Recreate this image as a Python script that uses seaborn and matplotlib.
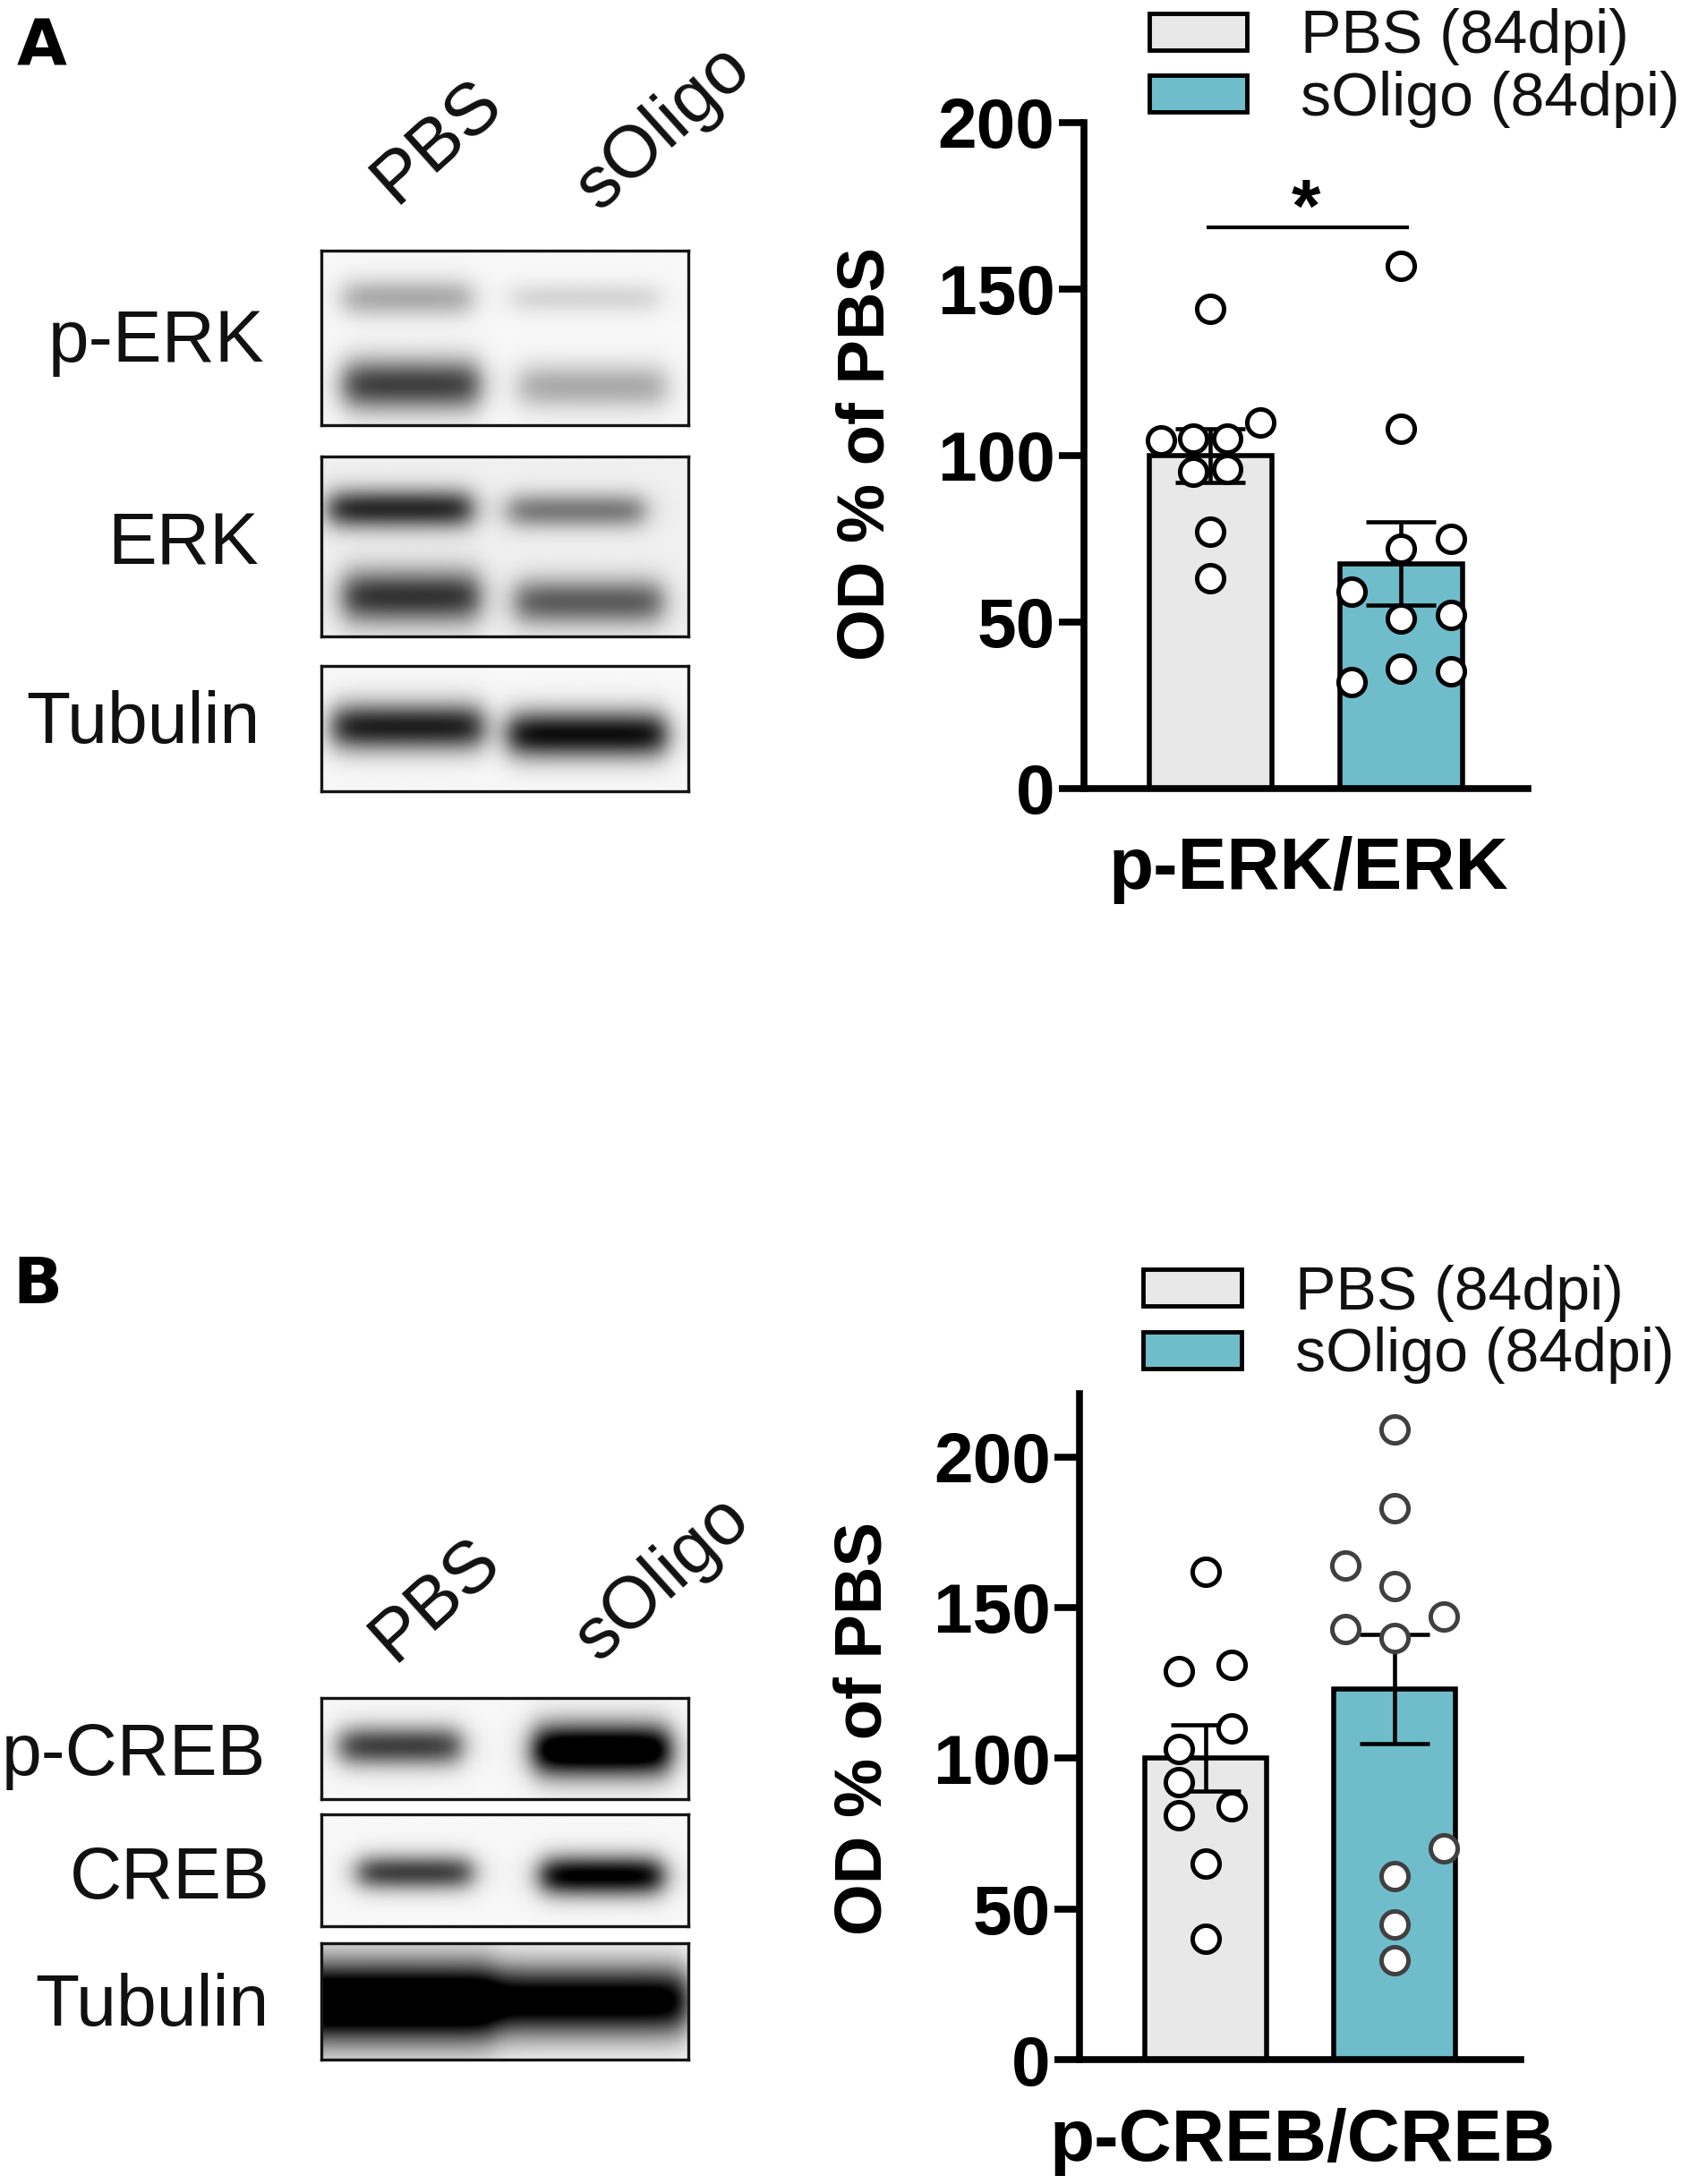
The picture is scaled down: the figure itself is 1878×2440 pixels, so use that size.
import numpy as np
import pandas as pd
import matplotlib
matplotlib.use("Agg")
import matplotlib.pyplot as plt
from matplotlib.patches import Patch
import seaborn as sns

# ---------- data ----------
groups = ["PBS", "sOligo"]
legend_labels = ["PBS (84dpi)", "sOligo (84dpi)"]

erk_means = [100, 67.5]
erk_low = [92, 55]
erk_high = [108, 80]
erk_pbs = [144, 110, 104.5, 105, 105, 95, 96, 77, 63]
erk_pbs_jit = [0, .26, -.26, -.09, .09, -.09, .09, 0, 0]
erk_sol = [157, 108, 75, 72, 59, 52, 51, 36, 35, 32]
erk_sol_jit = [0, 0, .26, 0, -.26, .26, 0, 0, .26, -.26]

creb_means = [100, 123]
creb_low = [89, 105]
creb_high = [111, 141]
creb_pbs = [162, 129, 131, 110, 103, 92, 84, 81, 65, 40]
creb_pbs_jit = [0, -.14, .14, .14, -.14, -.14, .14, -.14, 0, 0]
creb_sol = [209, 183, 164, 157, 147, 143, 140, 70, 61, 45, 33]
creb_sol_jit = [0, 0, -.26, 0, .26, -.26, 0, .26, 0, 0, 0]

yticks = [0, 50, 100, 150, 200]

# ---------- setup ----------
sns.set_theme(style="ticks")
plt.rcParams["font.family"] = ["Liberation Sans", "DejaVu Sans"]
W, H = 1878, 2440
S = 1878 / 1207
fig = plt.figure(figsize=(W / 100, H / 100), dpi=100, facecolor="white")
palette = {"PBS": "#E8E8E8", "sOligo": "#6FBDCB"}


def axes_from_shrunk(x0, y0, x1, y1):
    return fig.add_axes([x0 * S / W, 1 - y1 * S / H, (x1 - x0) * S / W, (y1 - y0) * S / H])


def ftext(x, y, s, **kw):
    return fig.text(x * S / W, 1 - y * S / H, s, **kw)


def bar_panel(box, ymax, means, low, high, pts, jits, xlabel, xlab_y, edge2, leg_xy):
    ax = axes_from_shrunk(*box)
    df = pd.DataFrame({"group": groups, "mean": means})
    sns.barplot(data=df, x="group", y="mean", hue="group", palette=palette, order=groups,
                hue_order=groups, width=0.642, edgecolor="black", linewidth=4,
                saturation=1, legend=False, ax=ax, zorder=2)
    for i in range(2):
        ax.errorbar([i], [means[i]], yerr=[[means[i] - low[i]], [high[i] - means[i]]],
                    color="black", lw=3.3, capsize=28, capthick=3.3, zorder=3)
        d = pd.DataFrame({"x": np.array(jits[i]) + i, "y": pts[i]})
        sns.scatterplot(data=d, x="x", y="y", s=470, color="white",
                        edgecolor=edge2 if i == 1 else "black", linewidth=3.6,
                        zorder=4, clip_on=False, ax=ax, legend=False)
    ax.set_xlim(-0.664, 1.664)
    ax.set_ylim(0, ymax)
    ax.set_xticks([])
    ax.set_yticks(yticks)
    ax.set_yticklabels([str(t) for t in yticks], fontsize=56.5, fontweight="bold", color="black")
    ax.tick_params(axis="y", length=20, width=5.5, pad=3, color="black")
    ax.set_xlabel("")
    ax.set_ylabel("")
    for side in ["top", "right"]:
        ax.spines[side].set_visible(False)
    for side in ["left", "bottom"]:
        ax.spines[side].set_linewidth(5.5)
        ax.spines[side].set_color("black")
    ftext((box[0] + box[2]) / 2 + 2, xlab_y, xlabel, fontsize=59, fontweight="bold",
          ha="center", va="center", color="black")
    handles = [Patch(facecolor=palette[g], edgecolor="black", linewidth=3.5) for g in groups]
    fig.legend(handles, legend_labels, loc="upper left",
               bbox_to_anchor=(leg_xy[0] * S / W, 1 - leg_xy[1] * S / H),
               frameon=False, fontsize=49, handlelength=79 / 49, handleheight=27 / 49,
               handletextpad=0.88, labelspacing=0.08, borderpad=0, borderaxespad=0,
               labelcolor="#111111")
    return ax


def blot(box, bands, bg=0.97):
    ax = axes_from_shrunk(*box)
    ny, nx = 200, 500
    yy, xx = np.mgrid[0:1:ny * 1j, 0:1:nx * 1j]
    dark = np.zeros_like(xx)
    for x0, x1, yc, hh, d in bands:
        prof_x = 0.5 * (np.tanh((xx - x0) / 0.04) - np.tanh((xx - x1) / 0.04))
        prof_y = np.exp(-((yy - yc) / hh) ** 2)
        dark += d * prof_x * prof_y
    ax.imshow(np.clip(bg - dark, 0, 1), cmap="gray", vmin=0, vmax=1, aspect="auto",
              extent=(0, 1, 1, 0), interpolation="bilinear")
    ax.set_xticks([])
    ax.set_yticks([])
    for s in ax.spines.values():
        s.set_linewidth(2.4)
        s.set_color("#151515")
    return ax


# ---------- panel A ----------
ax_a = bar_panel((778, 88, 1097, 566), 200, erk_means, erk_low, erk_high,
                 [erk_pbs, erk_sol], [erk_pbs_jit, erk_sol_jit], "p-ERK/ERK", 625, "black", (825, 6))
ax_a.plot([-0.02, 1.04], [168.6, 168.6], color="black", lw=3, zorder=5, solid_capstyle="butt")
ax_a.text(0.5, 173, "*", fontsize=60, fontweight="bold", ha="center", va="center", color="black")
ftext(622, 326, "OD % of PBS", fontsize=53.5, fontweight="bold", rotation=90,
      ha="center", va="center", color="black")

# ---------- panel B ----------
ax_b = bar_panel((775, 1001, 1092, 1479), 220.8, creb_means, creb_low, creb_high,
                 [creb_pbs, creb_sol], [creb_pbs_jit, creb_sol_jit], "p-CREB/CREB", 1538, "#404040", (821, 908))
ftext(620, 1241, "OD % of PBS", fontsize=53.5, fontweight="bold", rotation=90,
      ha="center", va="center", color="black")

# ---------- blots ----------
blot((231, 180, 494, 305), [(.06, .41, .27, .11, .30), (.52, .92, .27, .09, .13),
                            (.06, .43, .77, .15, .72), (.54, .94, .78, .13, .30)])
blot((231, 328, 494, 457), [(.02, .41, .29, .11, .78), (.51, .88, .30, .10, .46),
                            (.06, .43, .78, .15, .74), (.53, .93, .81, .13, .58)], bg=.94)
blot((231, 478, 494, 568), [(.03, .44, .49, .19, .85), (.51, .94, .55, .19, .92)])
blot((231, 1219, 494, 1292), [(.05, .38, .48, .20, .72), (.58, .95, .52, .26, 1.2)])
blot((231, 1303, 494, 1383), [(.10, .41, .52, .16, .72), (.60, .93, .55, .18, 1.0)])
blot((231, 1395, 494, 1479), [(-.1, .47, .51, .34, 1.35), (.47, 1.0, .50, .30, 1.1)])

for txt, x, y, fs in [("p-ERK", 190, 246, 59), ("ERK", 186, 392, 59), ("Tubulin", 187, 520, 58),
                      ("p-CREB", 191, 1261, 58), ("CREB", 194, 1350, 58), ("Tubulin", 193, 1441, 58)]:
    ftext(x, y, txt, fontsize=fs, ha="right", va="center", color="#111111")

for txt, x, y in [("PBS", 314, 102), ("sOligo", 477, 92), ("PBS", 313, 1149), ("sOligo", 476, 1134)]:
    ftext(x, y, txt, fontsize=59, rotation=42, ha="center", va="center", color="#111111")

for txt, x, y in [("A", 30, 34), ("B", 27, 923)]:
    fig.text(x * S / W, 1 - y * S / H, txt, fontsize=52, fontweight="bold", family="DejaVu Sans",
             ha="center", va="center", color="black")

fig.savefig("out.png", dpi=100, facecolor="white")
